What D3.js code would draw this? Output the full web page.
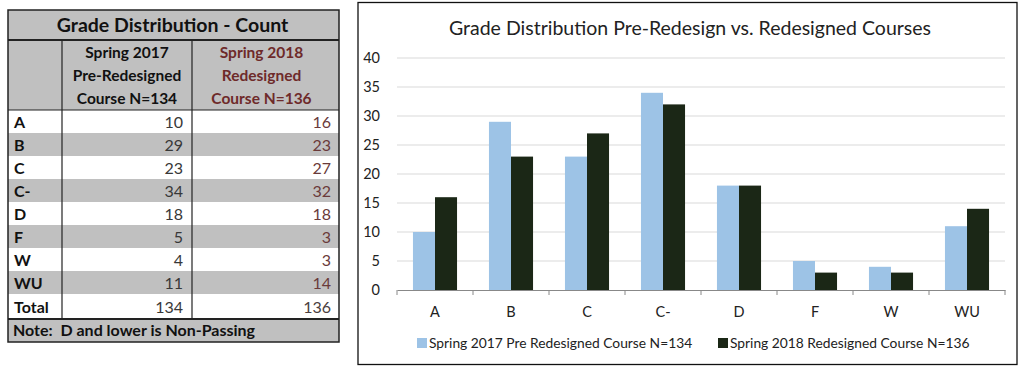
<!DOCTYPE html>
<html><head><meta charset="utf-8">
<script src="https://cdn.jsdelivr.net/npm/d3@7"></script>
<style>
html,body{margin:0;padding:0;background:#fff;}
svg{display:block;font-family:Lato,"Open Sans",sans-serif;}
</style></head>
<body>
<svg id="c" width="1024" height="367"></svg>
<script>
const categories = ["A","B","C","C-","D","F","W","WU"];
const spring2017 = [10,29,23,34,18,5,4,11];
const spring2018 = [16,23,27,32,18,3,3,14];
const seriesNames = ["Spring 2017 Pre Redesigned Course N=134","Spring 2018 Redesigned Course N=136"];
const yTicks = [0,5,10,15,20,25,30,35,40];
const tableTitle = "Grade Distribution - Count";
const headerCol2 = ["Spring 2017","Pre-Redesigned","Course N=134"];
const headerCol3 = ["Spring 2018","Redesigned","Course N=136"];
const noteText = "Note:\u00a0 D and lower is Non-Passing";
const chartTitle = "Grade Distribution Pre-Redesign vs. Redesigned Courses";

const svg = d3.select("#c");
const GRAY = "#c0c0c0";

// ---------- TABLE ----------
const T = {x0:8, x1:62, x2:192, x3:339, top:10, titleB:40, headB:110, rowH:23};
const tg = svg.append("g");
const rows = categories.map((c,i)=>({label:c, a:spring2017[i], b:spring2018[i]}));
rows.push({label:"Total", a:d3.sum(spring2017), b:d3.sum(spring2018)});
const totalTop = T.headB + categories.length*T.rowH;
const totalB = totalTop + 25;
const bottom = totalB + 23;

tg.append("rect").attr("x",T.x0).attr("y",T.top).attr("width",T.x3-T.x0).attr("height",T.headB-T.top).attr("fill",GRAY);
rows.forEach((r,i)=>{
  const y = T.headB + i*T.rowH;
  const h = i===rows.length-1 ? totalB - y : T.rowH;
  tg.append("rect").attr("x",T.x0).attr("y",y).attr("width",T.x3-T.x0).attr("height",h)
    .attr("fill", i%2===1 ? GRAY : "#fff");
  const cy = y + h/2 + 6;
  tg.append("text").attr("x",T.x0+6).attr("y",cy).attr("font-size",16).attr("font-weight","bold").attr("fill","#111").text(r.label);
  tg.append("text").attr("x",183).attr("y",cy).attr("text-anchor","end").attr("font-size",16).attr("fill","#383838").text(r.a);
  tg.append("text").attr("x",331).attr("y",cy).attr("text-anchor","end").attr("font-size",16).attr("fill", i===rows.length-1 ? "#4a4040":"#6a3a3a").text(r.b);
});
tg.append("rect").attr("x",T.x0).attr("y",totalB).attr("width",T.x3-T.x0).attr("height",bottom-totalB).attr("fill",GRAY);
tg.append("text").attr("x",T.x0+5).attr("y",totalB+17).attr("font-size",16).attr("font-weight","bold").attr("fill","#111").text(noteText);

tg.append("text").attr("x",(T.x0+T.x3)/2-1).attr("y",32).attr("text-anchor","middle").attr("font-size",19.5).attr("font-weight","bold").attr("fill","#111").text(tableTitle);
headerCol2.forEach((t,i)=>tg.append("text").attr("x",(T.x1+T.x2)/2).attr("y",58+i*23).attr("text-anchor","middle").attr("font-size",15.5).attr("font-weight","bold").attr("fill","#111").text(t));
headerCol3.forEach((t,i)=>tg.append("text").attr("x",(T.x2+T.x3)/2-4).attr("y",58+i*23).attr("text-anchor","middle").attr("font-size",15.5).attr("font-weight","bold").attr("fill","#6e2a2a").text(t));

// lines
const L = (x1,y1,x2,y2,w)=>tg.append("line").attr("x1",x1).attr("y1",y1).attr("x2",x2).attr("y2",y2).attr("stroke","#222").attr("stroke-width",w||1.2);
L(T.x1,T.titleB,T.x1,totalB);
L(T.x2,T.titleB,T.x2,totalB);
L(T.x0,T.titleB,T.x3,T.titleB,2);
L(T.x0,totalB,T.x3,totalB,2);
L(T.x0,T.headB,T.x3,T.headB,1);
tg.append("rect").attr("x",T.x0).attr("y",T.top).attr("width",T.x3-T.x0).attr("height",bottom-T.top).attr("fill","none").attr("stroke","#222").attr("stroke-width",1.5);

// ---------- CHART ----------
svg.append("rect").attr("x",358).attr("y",2.5).attr("width",659).attr("height",362).attr("fill","#fff").attr("stroke","#111").attr("stroke-width",1.3);
const M = {left:397, right:1005, top:58, bottom:290};
const x = d3.scaleBand().domain(categories).range([M.left,M.right]).paddingInner(0).paddingOuter(0);
const y = d3.scaleLinear().domain([0,40]).range([M.bottom,M.top]);
const inner = 0.58;
const bw = x.bandwidth()*inner/2;
const off = (x.bandwidth()-2*bw)/2;

const cg = svg.append("g");
cg.selectAll("line.grid").data(yTicks.filter(d=>d>0)).join("line").attr("class","grid")
  .attr("x1",M.left).attr("x2",M.right).attr("y1",d=>y(d)).attr("y2",d=>y(d))
  .attr("stroke","#d9d9d9").attr("stroke-width",1);

const yAxis = d3.axisLeft(y).tickValues(yTicks).tickSize(0).tickPadding(17);
const ya = cg.append("g").attr("transform",`translate(${M.left},0)`).call(yAxis);
ya.select(".domain").remove();
ya.selectAll("text").attr("font-size",14.5).attr("fill","#222").attr("font-family","Lato,'Open Sans',sans-serif");

const cols = ["#9dc3e6","#1b2716"];
[spring2017, spring2018].forEach((vals,s)=>{
  cg.selectAll(null).data(categories).join("rect")
    .attr("x",d=>x(d)+off+s*bw).attr("width",bw)
    .attr("y",(d,i)=>y(vals[i])).attr("height",(d,i)=>y(0)-y(vals[i]))
    .attr("fill",cols[s]);
});

const xAxis = d3.axisBottom(x).tickSize(0).tickPadding(17);
const xa = cg.append("g").attr("transform",`translate(0,${M.bottom})`).call(xAxis);
xa.select(".domain").attr("stroke","#888");
xa.selectAll("text").attr("font-size",14.5).attr("fill","#222").attr("font-family","Lato,'Open Sans',sans-serif");
// category boundary ticks
cg.selectAll("line.xt").data(categories.concat(["_end"])).join("line").attr("class","xt")
  .attr("x1",(d,i)=>M.left+i*x.bandwidth()).attr("x2",(d,i)=>M.left+i*x.bandwidth())
  .attr("y1",M.bottom).attr("y2",M.bottom+5).attr("stroke","#888");

cg.append("text").attr("x",690).attr("y",35).attr("text-anchor","middle").attr("font-size",19.5).attr("fill","#222").text(chartTitle);

// legend
const leg = [{x:417,name:seriesNames[0],c:cols[0]},{x:718,name:seriesNames[1],c:cols[1]}];
leg.forEach(l=>{
  cg.append("rect").attr("x",l.x).attr("y",338).attr("width",10).attr("height",10).attr("fill",l.c);
  cg.append("text").attr("x",l.x+12).attr("y",348).attr("font-size",13.8).attr("fill","#222").text(l.name);
});
</script>
</body></html>
